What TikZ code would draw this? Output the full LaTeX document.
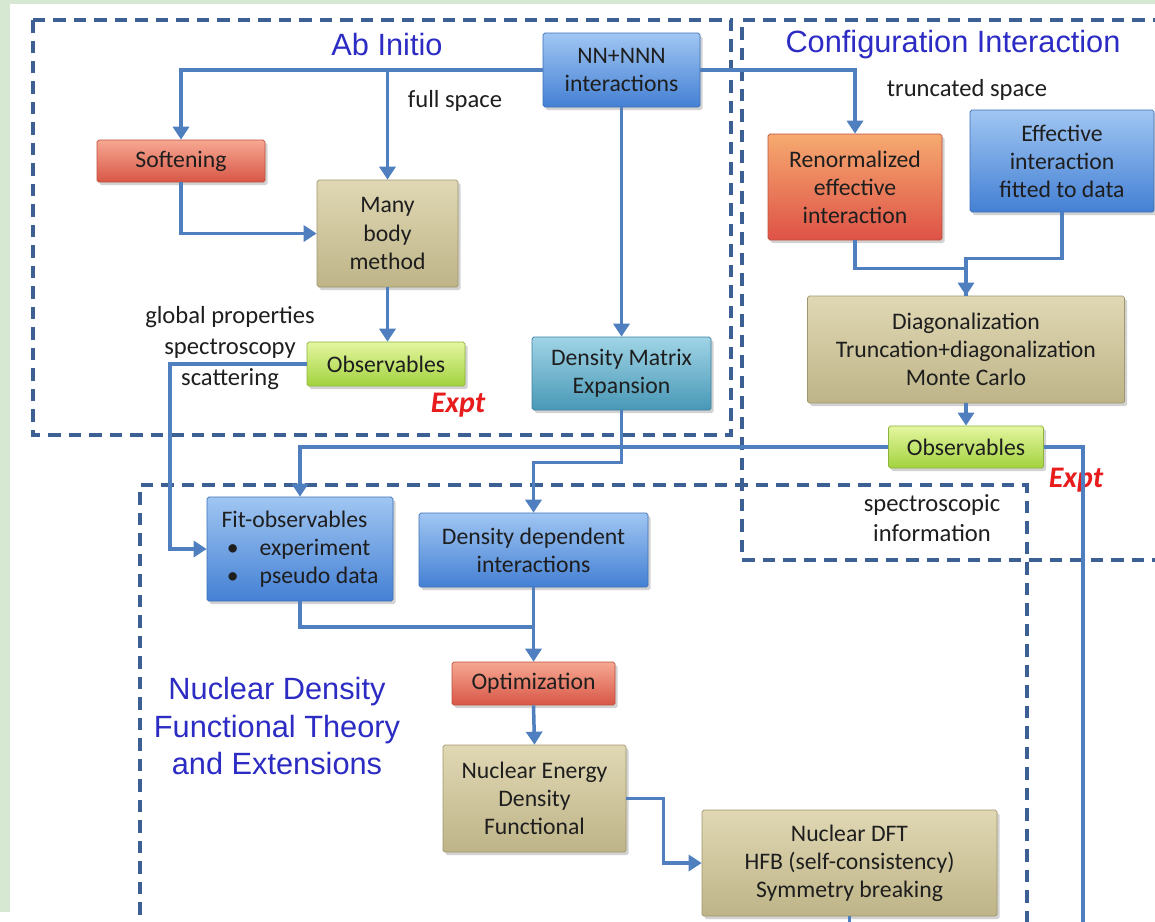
\documentclass[tikz,border=0pt]{standalone}
\usepackage{fontspec}
\setmainfont{Carlito}
\newfontfamily\titlefont{Liberation Sans}
\usetikzlibrary{arrows.meta,shadows,calc}

\definecolor{connc}{RGB}{79,127,190}
\definecolor{regionc}{RGB}{60,96,148}
\definecolor{bggreen}{RGB}{214,232,210}
\definecolor{titleblue}{RGB}{44,44,196}
\definecolor{exptred}{RGB}{232,28,28}
\definecolor{txtc}{RGB}{30,30,30}
\definecolor{blueT}{RGB}{160,198,242}
\definecolor{blueB}{RGB}{68,128,212}
\definecolor{blueD}{RGB}{62,112,182}
\definecolor{tealT}{RGB}{160,212,230}
\definecolor{tealB}{RGB}{72,152,182}
\definecolor{tealD}{RGB}{60,130,160}
\definecolor{redT}{RGB}{246,168,146}
\definecolor{redB}{RGB}{216,86,70}
\definecolor{redD}{RGB}{190,80,64}
\definecolor{orT}{RGB}{246,170,112}
\definecolor{orB}{RGB}{222,82,70}
\definecolor{tanT}{RGB}{224,216,180}
\definecolor{tanB}{RGB}{190,180,136}
\definecolor{tanD}{RGB}{160,150,110}
\definecolor{grnT}{RGB}{228,246,160}
\definecolor{grnB}{RGB}{162,210,62}
\definecolor{grnD}{RGB}{140,180,60}

\tikzset{
  basebox/.style={inner sep=0pt, align=center, text=txtc, rounded corners=1pt,
    font=\fontsize{13.5}{16}\selectfont, line width=0.4pt,
    drop shadow={shadow xshift=0.05cm, shadow yshift=-0.06cm, opacity=0.35}},
  boxsize/.style 2 args={minimum width=#1*0.02cm, minimum height=#2*0.02cm},
  bluebox/.style={basebox, top color=blueT, bottom color=blueB, draw=blueD},
  tealbox/.style={basebox, top color=tealT, bottom color=tealB, draw=tealD},
  redbox/.style={basebox, top color=redT, bottom color=redB, draw=redD},
  orbox/.style={basebox, top color=orT, bottom color=orB, draw=redD},
  tanbox/.style={basebox, top color=tanT, bottom color=tanB, draw=tanD},
  grnbox/.style={basebox, top color=grnT, bottom color=grnB, draw=grnD},
  region/.style={draw=regionc, line width=0.07cm, dash pattern=on 0.25cm off 0.16cm},
  conn/.style={draw=connc, line width=0.07cm},
  arr/.style={conn, -{Triangle[width=0.32cm,length=0.26cm]}},
  titletxt/.style={text=titleblue, align=center, inner sep=0pt,
    font=\titlefont\fontsize{17.5}{21.5}\selectfont},
  labtxt/.style={text=txtc, align=center, inner sep=0pt,
    font=\fontsize{14}{17.5}\selectfont},
  expt/.style={text=exptred, inner sep=0pt,
    font=\fontsize{17}{20}\selectfont\bfseries\itshape}
}

\begin{document}
\begin{tikzpicture}[x=0.02cm,y=-0.02cm]
\useasboundingbox (0,0) rectangle (1155,921);
\fill[white] (0,0) rectangle (1155,921);
\fill[bggreen] (0,0) rectangle (1155,4);
\fill[bggreen] (0,0) rectangle (10,912);

% dashed regions
\draw[region] (33,20) rectangle (731,435);
\draw[region] (1165,20) -- (742,20) -- (742,560) -- (1165,560);
\draw[region] (140,935) -- (140,485) -- (1027,485) -- (1027,935);

% titles and labels
\node[titletxt] (tab) at (387,45) {Ab Initio};
\node[titletxt] (tci) at (953,45) {Configuration Interaction};
\node[titletxt, font=\titlefont\fontsize{17.5}{21.6}\selectfont] (tdft) at (277,726) {Nuclear Density\\Functional Theory\\and Extensions};
\node[labtxt] (lfull) at (455,101) {full space};
\node[labtxt] (ltrunc) at (967,90) {truncated space};
\node[labtxt, font=\fontsize{14}{17.6}\selectfont] (lglob) at (230,348) {global properties\\spectroscopy\\scattering};
\node[labtxt, font=\fontsize{14}{17}\selectfont] (lspec) at (932,518) {spectroscopic\\information};

% boxes
\node[bluebox, boxsize={157}{74}] (nn) at (621.5,70) {NN+NNN\\interactions};
\node[redbox, boxsize={168}{42}] (soft) at (181,161) {Softening};
\node[tanbox, boxsize={141}{107}] (many) at (387.5,233.5) {Many\\body\\method};
\node[grnbox, boxsize={158}{44}] (obsl) at (386,364) {Observables};
\node[tealbox, boxsize={179}{73}] (dme) at (621.5,373.5) {Density Matrix\\Expansion};
\node[orbox, boxsize={174}{106}] (renorm) at (855,187) {Renormalized\\effective\\interaction};
\node[bluebox, boxsize={184}{102}] (effint) at (1062,161) {Effective\\interaction\\fitted to data};
\node[tanbox, boxsize={317}{107}] (diag) at (966,349.5) {Diagonalization\\Truncation+diagonalization\\Monte Carlo};
\node[grnbox, boxsize={155}{42}] (obsr) at (966,447) {Observables};
\node[bluebox, boxsize={186}{104}, align=left] (fit) at (300,549) {Fit-observables\\\hspace*{3pt}•\hspace{12pt}experiment\\\hspace*{3pt}•\hspace{12pt}pseudo data};
\node[bluebox, boxsize={229}{74}] (ddi) at (533.5,550) {Density dependent\\interactions};
\node[redbox, boxsize={163}{43}] (opt) at (533.5,683.5) {Optimization};
\node[tanbox, boxsize={183}{107}] (nedf) at (534.5,798.5) {Nuclear Energy\\Density\\Functional};
\node[tanbox, boxsize={295}{106}] (ndft) at (849.5,863) {Nuclear DFT\\HFB (self-consistency)\\Symmetry breaking};

\node[expt] (ex1) at (458,405) {Expt};
\node[expt] (ex2) at (1076,480) {Expt};

% coordinates for free ends and junctions
\coordinate (cobs) at (170,364);
\coordinate (jfit) at (533.5,627);
\coordinate (cright) at (1083,935);
\coordinate (cdft) at (849.5,935);

% connectors
\draw[arr] (nn.west) -| (soft.north);
\draw[arr] (nn.west -| many.north) -- (many.north);
\draw[arr] (nn.east) -| (renorm.north);
\draw[arr] (soft.south) |- (many.west);
\draw[arr] (many.south) -- (many.south |- obsl.north);
\draw[arr] (nn.south) -- (dme.north);
\draw[arr] (obsl.west) -- (cobs) |- (fit.west);
\draw[conn] (renorm.south) -- ++(0,28) -| (diag.north);
\draw[arr] (effint.south) -- ++(0,46) -| (diag.north);
\draw[arr] (diag.south) -- (obsr.north);
\draw[arr] (obsr.west) -| (fit.north);
\draw[conn] (obsr.east) -| (cright);
\draw[arr] (dme.south) -- ++(0,52) -| (ddi.north);
\draw[conn] (fit.south) |- (jfit);
\draw[arr] (ddi.south) -- (opt.north);
\draw[arr] (opt.south) -- (nedf.north);
\draw[arr] (nedf.east) -- ++(37,0) |- (ndft.west);
\draw[conn] (ndft.south) -- (cdft);
\end{tikzpicture}
\end{document}
